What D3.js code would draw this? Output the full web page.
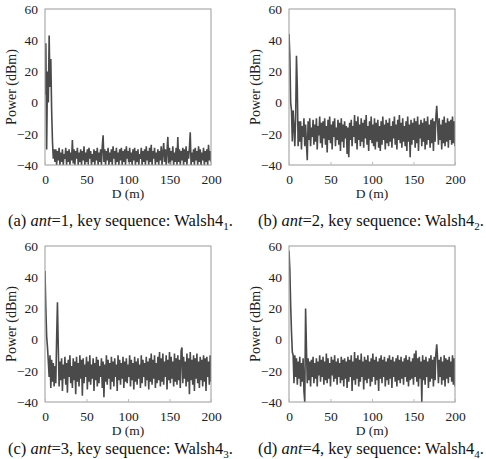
<!DOCTYPE html>
<html><head><meta charset="utf-8">
<script src="https://cdn.jsdelivr.net/npm/d3@7"></script>
<style>body{margin:0;background:#fff}svg{display:block}</style>
</head><body><div id="chart"></div>
<script>
// Power (dBm) vs distance D (m), one sample per metre, 0..200
const powerA = [
  5, 38, -30, 20, 0, 43, 10, 28, -5, -25, -36, -30,
  -38, -30, -40, -31, -37, -29, -40, -32,
  -38, -30, -40, -33, -36, -29, -40, -31, -38, -30,
  -40, -32, -37, -24, -39, -30, -40, -31, -36, -29,
  -40, -32, -38, -30, -40, -31, -37, -28, -40, -32,
  -38, -30, -40, -29, -36, -31, -40, -33, -38, -30,
  -40, -31, -37, -29, -40, -32, -38, -30, -40, -28,
  -21, -38, -30, -40, -31, -37, -29, -40, -32, -38,
  -30, -40, -28, -36, -31, -40, -29, -38, -32, -40,
  -30, -37, -29, -40, -31, -38, -30, -40, -28, -36,
  -31, -40, -29, -38, -32, -40, -30, -37, -29, -40,
  -31, -38, -30, -40, -33, -36, -29, -40, -31, -38,
  -30, -40, -28, -37, -31, -40, -29, -38, -27, -40,
  -31, -36, -29, -40, -32, -38, -30, -40, -31, -37,
  -28, -40, -32, -26, -38, -30, -40, -31, -22, -39,
  -29, -40, -31, -37, -28, -40, -32, -38, -29, -40,
  -22, -38, -30, -40, -31, -37, -29, -40, -30, -38,
  -28, -40, -31, -36, -29, -19, -40, -32, -38, -30,
  -40, -29, -37, -31, -40, -28, -38, -30, -40, -32,
  -37, -29, -40, -31, -38, -30, -40, -27, -37, -31,
  -38
];
const powerB = [
  44, 30, 0, -5, -25, -5, -15, -28, -10, 30, 10, -28, -12,
  -25, -12, -30, -15, -22, -10, -28,
  -14, -26, -37, -12, -24, -10, -28, -16, -22, -11,
  -27, -14, -25, -10, -30, -15, -21, -9, -26, -13,
  -29, -12, -23, -10, -27, -15, -32, -11, -24, -9,
  -26, -14, -30, -12, -22, -10, -28, -16, -24, -11,
  -27, -13, -31, -10, -25, -14, -29, -12, -23, -15,
  -33, -16, -35, -13, -24, -11, -28, -15, -22, -8,
  -26, -12, -30, -9, -24, -14, -28, -10, -25, -13,
  -29, -11, -23, -8, -27, -15, -31, -12, -24, -9,
  -26, -14, -28, -10, -30, -13, -25, -11, -29, -15,
  -31, -12, -27, -9, -24, -14, -30, -11, -26, -13,
  -28, -10, -25, -15, -29, -12, -23, -9, -27, -14,
  -30, -11, -24, -8, -26, -13, -29, -10, -25, -15,
  -28, -12, -31, -9, -25, -14, -35, -11, -27, -13,
  -24, -10, -29, -12, -26, -9, -31, -14, -23, -11,
  -28, -13, -25, -10, -30, -12, -27, -9, -24, -14,
  -29, -11, -26, -10, -31, -12, -25, -9, -2, -13,
  -27, -10, -24, -14, -30, -11, -26, -9, -28, -13,
  -25, -10, -29, -12, -24, -11, -27, -9, -26, -12,
  -28
];
const powerC = [
  44, 20, 2, -5, -14, -24, -10, -31, -13, -27,
  -15, -30, -17, -28, 0, 24, -5, -30, -14, -26,
  -12, -33, -16, -25, -11, -29, -15, -34, -13, -24,
  -10, -28, -17, -31, -12, -26, -14, -35, -11, -27,
  -15, -30, -10, -25, -13, -36, -12, -28, -16, -24,
  -11, -32, -14, -27, -10, -29, -16, -25, -12, -33,
  -15, -26, -11, -30, -13, -28, -17, -24, -12, -31,
  -14, -37, -16, -27, -10, -29, -13, -25, -15, -32,
  -11, -27, -14, -30, -12, -24, -16, -33, -10, -26,
  -13, -29, -15, -25, -11, -31, -14, -27, -12, -28,
  -16, -24, -10, -30, -13, -26, -15, -32, -11, -27,
  -14, -29, -12, -25, -16, -31, -10, -28, -13, -24,
  -15, -30, -11, -26, -14, -32, -12, -27, -9, -29,
  -13, -25, -10, -31, -15, -28, -11, -26, -8, -30,
  -12, -27, -9, -29, -14, -24, -10, -32, -13, -26,
  -8, -28, -11, -25, -14, -30, -9, -27, -12, -29,
  -10, -26, -13, -31, -7, -5, -28, -11, -25, -14,
  -30, -9, -27, -12, -35, -8, -26, -13, -29, -10,
  -33, -12, -25, -9, -28, -14, -31, -11, -26, -13,
  -30, -10, -27, -12, -33, -11, -24, -14, -29, -10,
  -27
];
const powerD = [
  57, 45, 22, 5, -8, -10, -28, -10, -24, -12,
  -29, -14, -25, -11, -30, -15, -27, -12, -33, -40,
  20, -5, -28, -12, -26, -14, -30, -13, -24, -11,
  -28, -15, -25, -12, -30, -14, -23, -10, -27, -13,
  -24, -11, -29, -14, -26, -9, -28, -12, -25, -15,
  -30, -11, -23, -13, -27, -10, -25, -14, -29, -12,
  -24, -15, -28, -11, -26, -13, -30, -12, -25, -14,
  -31, -11, -27, -13, -24, -10, -33, -14, -26, -8,
  -29, -12, -25, -10, -30, -13, -27, -9, -24, -14,
  -32, -11, -26, -13, -28, -10, -25, -14, -30, -12,
  -27, -9, -24, -13, -29, -11, -26, -14, -33, -12,
  -25, -10, -28, -13, -24, -11, -30, -14, -26, -12,
  -29, -10, -25, -13, -31, -11, -24, -14, -27, -12,
  -30, -10, -26, -13, -28, -11, -25, -14, -29, -12,
  -24, -10, -27, -13, -30, -11, -26, -14, -25, -12,
  -29, -9, -24, -7, -27, -12, -30, -11, -25, -14,
  -40, -10, -26, -13, -29, -11, -24, -14, -31, -12,
  -27, -10, -25, -13, -30, -11, -26, -9, -3, -12,
  -28, -13, -24, -11, -29, -14, -26, -10, -30, -12,
  -25, -13, -28, -11, -24, -14, -27, -10, -29, -12,
  -30
];
const xTicks = [0, 50, 100, 150, 200];
const yTicks = [-40, -20, 0, 20, 40, 60];
const panelLetters = ["a", "b", "c", "d"];
const antennas = [1, 2, 3, 4];
const series = [powerA, powerB, powerC, powerD];

const W = 486, H = 459;
const FONT = "Liberation Serif";
const svg = d3.select("#chart").append("svg").attr("width", W).attr("height", H);

const panels = [
  {ox: 0, oy: 0}, {ox: 244, oy: 0}, {ox: 0, oy: 237}, {ox: 244, oy: 237}
];
const capX = [8, 258, 8, 258];
const capY = [226, 226, 454, 454];
const box = {x0: 45, x1: 211, y0: 9, y1: 165};

series.forEach((vals, i) => {
  const p = panels[i];
  const g = svg.append("g").attr("transform", `translate(${p.ox},${p.oy})`);
  const x = d3.scaleLinear().domain([0, 200]).range([box.x0, box.x1]);
  const y = d3.scaleLinear().domain([-40, 60]).range([box.y1, box.y0]);

  const clipId = "clip" + i;
  g.append("clipPath").attr("id", clipId).append("rect")
    .attr("x", box.x0).attr("y", box.y0).attr("width", box.x1 - box.x0).attr("height", box.y1 - box.y0);

  const line = d3.line().x((d, k) => x(k)).y(d => y(d));
  g.append("path").datum(vals).attr("d", line)
    .attr("fill", "none").attr("stroke", "#4a4a4a").attr("stroke-width", 1.6)
    .attr("stroke-linejoin", "miter").attr("stroke-miterlimit", 2)
    .attr("clip-path", `url(#${clipId})`);

  g.append("rect").attr("x", box.x0).attr("y", box.y0)
    .attr("width", box.x1 - box.x0).attr("height", box.y1 - box.y0)
    .attr("fill", "none").attr("stroke", "#9a9a9a").attr("stroke-width", 1);

  const xAxis = g.append("g").attr("transform", `translate(0,${box.y1})`)
    .call(d3.axisBottom(x).tickValues(xTicks).tickSizeInner(-3).tickSizeOuter(0).tickPadding(9));
  const yAxis = g.append("g").attr("transform", `translate(${box.x0},0)`)
    .call(d3.axisLeft(y).tickValues(yTicks).tickSizeInner(0).tickSizeOuter(0).tickPadding(7));
  [xAxis, yAxis].forEach(a => {
    a.attr("font-family", null).attr("font-size", null);
    a.select(".domain").remove();
    a.selectAll("line").attr("stroke", "#bbb");
    a.selectAll("text").attr("fill", "#222").attr("font-family", FONT).attr("font-size", 13.5);
  });

  g.append("text").attr("x", (box.x0 + box.x1) / 2).attr("y", 198)
    .attr("text-anchor", "middle").attr("font-family", FONT).attr("font-size", 13.5)
    .attr("fill", "#222").text("D (m)");
  g.append("text").attr("transform", `translate(16,${(box.y0 + box.y1) / 2}) rotate(-90)`)
    .attr("text-anchor", "middle").attr("font-family", FONT).attr("font-size", 14)
    .attr("fill", "#222").text("Power (dBm)");

  const cap = svg.append("text").attr("x", capX[i]).attr("y", capY[i])
    .attr("font-family", FONT).attr("font-size", 16.5).attr("fill", "#111");
  cap.append("tspan").text(`(${panelLetters[i]}) `);
  cap.append("tspan").attr("font-style", "italic").text("ant");
  cap.append("tspan").text(`=${antennas[i]}, key sequence: Walsh4`);
  cap.append("tspan").attr("dy", 4).attr("font-size", 11).text(antennas[i]);
  cap.append("tspan").attr("dy", -4).text(".");
});
</script>
</body></html>
